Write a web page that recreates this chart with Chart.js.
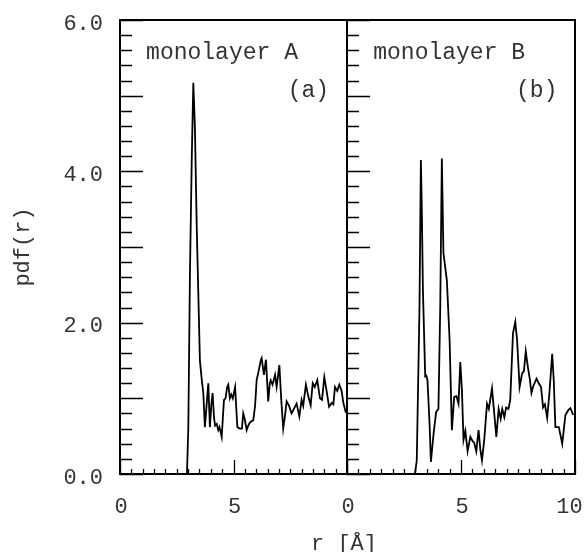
<!DOCTYPE html>
<html>
<head>
<meta charset="utf-8">
<script src="https://cdn.jsdelivr.net/npm/chart.js@4.4.0/dist/chart.umd.min.js"></script>
<style>
html, body { margin: 0; padding: 0; background: #fff; }
#wrap { position: relative; width: 584px; height: 552px; }
#wrap canvas { position: absolute; left: 0; top: 0; }
</style>
</head>
<body>
<div id="wrap">
  <canvas id="chartA" width="584" height="552"></canvas>
  <canvas id="chartB" width="584" height="552"></canvas>
</div>
<script>
// ---------- data ----------
const xA = [0, 2.95, 3.01, 3.08, 3.16, 3.23, 3.30, 3.38, 3.45, 3.52, 3.60, 3.67, 3.74, 3.80, 3.89, 3.96,
  4.02, 4.08, 4.14, 4.19, 4.26, 4.33, 4.38, 4.43, 4.48, 4.58, 4.65, 4.72, 4.77, 4.84, 4.90, 4.97,
  5.07, 5.17, 5.27, 5.37, 5.43, 5.50, 5.58, 5.65, 5.70, 5.80, 5.87, 5.95, 6.02, 6.10, 6.20, 6.24,
  6.30, 6.34, 6.43, 6.53, 6.60, 6.64, 6.72, 6.78, 6.83, 6.90, 7.02, 7.10, 7.19, 7.26, 7.34, 7.45,
  7.56, 7.66, 7.78, 7.90, 8.00, 8.07, 8.19, 8.30, 8.40, 8.49, 8.58, 8.69, 8.81, 8.90, 9.00, 9.10,
  9.21, 9.33, 9.40, 9.47, 9.57, 9.66, 9.76, 9.84, 9.94, 10.0];
const yA = [0, 0, 0.62, 2.61, 4.15, 5.17, 4.59, 3.27, 2.39, 1.50, 1.25, 1.07, 0.62, 0.85, 1.20, 0.62,
  0.90, 1.07, 0.75, 0.64, 0.66, 0.58, 0.62, 0.56, 0.49, 0.98, 1.00, 1.15, 1.18, 1.00, 1.05, 1.00,
  1.15, 0.62, 0.60, 0.60, 0.80, 0.72, 0.58, 0.64, 0.67, 0.70, 0.71, 0.90, 1.24, 1.35, 1.50, 1.53,
  1.40, 1.31, 1.51, 0.96, 1.20, 1.24, 1.18, 1.25, 1.31, 1.15, 1.44, 1.00, 0.60, 0.75, 0.96, 0.90,
  0.80, 0.86, 0.93, 0.76, 0.98, 0.90, 1.18, 1.02, 0.91, 1.20, 1.15, 1.24, 1.00, 0.98, 1.28, 1.10,
  0.89, 0.94, 0.92, 1.15, 1.10, 1.18, 1.10, 0.94, 0.82, 0.82];

const xB = [0, 2.98, 3.06, 3.18, 3.24, 3.28, 3.33, 3.43, 3.48, 3.53, 3.62, 3.68, 3.74, 3.80, 3.91, 4.01,
  4.09, 4.16, 4.23, 4.30, 4.38, 4.50, 4.60, 4.70, 4.80, 4.89, 4.97, 5.04, 5.11, 5.19, 5.29, 5.41,
  5.50, 5.58, 5.67, 5.77, 5.85, 5.92, 6.02, 6.14, 6.22, 6.36, 6.44, 6.55, 6.65, 6.74, 6.81, 6.90,
  6.98, 7.08, 7.16, 7.28, 7.38, 7.46, 7.57, 7.68, 7.76, 7.84, 7.93, 8.02, 8.09, 8.17, 8.31, 8.41,
  8.51, 8.60, 8.68, 8.78, 8.88, 9.00, 9.07, 9.14, 9.29, 9.44, 9.58, 9.72, 9.80, 9.92];
const yB = [0, 0, 0.18, 2.21, 4.15, 3.53, 2.43, 1.29, 1.30, 1.24, 0.67, 0.16, 0.35, 0.54, 0.82, 0.86,
  2.21, 4.17, 2.92, 2.75, 2.56, 1.77, 0.58, 1.02, 1.03, 0.93, 1.48, 1.11, 0.45, 0.57, 0.30, 0.49,
  0.44, 0.41, 0.30, 0.58, 0.32, 0.18, 0.45, 0.93, 0.86, 1.13, 0.86, 0.49, 0.86, 0.73, 0.86, 0.75,
  0.88, 0.86, 0.98, 1.86, 2.01, 1.77, 1.15, 1.33, 1.36, 1.62, 1.42, 1.25, 1.07, 1.16, 1.26, 1.20,
  1.15, 0.88, 0.92, 0.74, 1.08, 1.59, 1.23, 0.62, 0.62, 0.40, 0.78, 0.85, 0.87, 0.78];

const xTickValuesA = [0, 5];
const xTickLabelsA = ['0', '5'];
const xTickValuesB = [0, 5, 10];
const xTickLabelsB = ['0', '5', '10 '];
const yTickValues = [0, 2, 4, 6];
const yTickLabels = ['0.0', '2.0', '4.0', '6.0'];

const xMin = 0, xMax = 10, xMinorStep = 0.5, xMajorStep = 5;
const yMin = 0, yMax = 6, yMinorStep = 0.2, yMajorStep = 1;

// ---------- styling ----------
const FONT = "'Liberation Mono', 'DejaVu Sans Mono', monospace";
const INK = '#000';
const TEXT = '#333';

const frameTicks = {
  id: 'frameTicks',
  afterDatasetsDraw(chart, args, opts) {
    const { ctx, chartArea: a, scales: { x, y } } = chart;
    ctx.save();
    ctx.strokeStyle = INK;
    ctx.lineWidth = 1.3;
    ctx.beginPath();
    const ny = Math.round((yMax - yMin) / yMinorStep);
    for (let i = 0; i <= ny; i++) {
      const v = yMin + i * yMinorStep;
      const py = Math.round(y.getPixelForValue(v)) + 0.5;
      const major = Math.abs(v / yMajorStep - Math.round(v / yMajorStep)) < 1e-6;
      ctx.moveTo(a.left, py);
      ctx.lineTo(a.left + (major ? 23 : 12), py);
    }
    const nx = Math.round((xMax - xMin) / xMinorStep);
    for (let i = 0; i <= nx; i++) {
      const v = xMin + i * xMinorStep;
      const px = Math.round(x.getPixelForValue(v)) + 0.5;
      const major = Math.abs(v / xMajorStep - Math.round(v / xMajorStep)) < 1e-6;
      ctx.moveTo(px, a.bottom);
      ctx.lineTo(px, a.bottom - (major ? 14 : 5));
    }
    ctx.stroke();
    ctx.lineWidth = 2;
    ctx.strokeRect(a.left, a.top, a.right - a.left, a.bottom - a.top);

    ctx.fillStyle = TEXT;
    ctx.font = '23px ' + FONT;
    ctx.textBaseline = 'alphabetic';
    (opts.notes || []).forEach(n => {
      ctx.textAlign = n.align;
      ctx.fillText(n.text, x.getPixelForValue(n.x), y.getPixelForValue(n.y));
    });
    if (opts.xTitle) {
      ctx.font = '22px ' + FONT;
      ctx.textAlign = 'center';
      ctx.fillText(opts.xTitle.text, opts.xTitle.cx, opts.xTitle.baseline);
    }
    ctx.restore();
  }
};

function lookup(values, labels, v) {
  const i = values.findIndex(t => Math.abs(t - v) < 1e-6);
  return i >= 0 ? labels[i] : '';
}

function xScale(tickValues, tickLabels) {
  return {
    type: 'linear', min: xMin, max: xMax,
    grid: { display: false, drawTicks: false },
    border: { display: false },
    afterBuildTicks(s) { s.ticks = tickValues.map(v => ({ value: v })); },
    ticks: {
      autoSkip: false, maxRotation: 0, minRotation: 0,
      padding: 20, labelOffset: 1, color: TEXT,
      font: { family: FONT, size: 22 },
      callback: v => lookup(tickValues, tickLabels, v)
    },
    afterFit(s) { s.height = 78; s.paddingLeft = 0; s.paddingRight = 0; }
  };
}

function makeChart(id, xs, ys, padding, xTicksV, xTicksL, showY, pluginOpts) {
  return new Chart(document.getElementById(id), {
    type: 'line',
    data: {
      datasets: [{
        data: xs.map((v, i) => ({ x: v, y: ys[i] })),
        borderColor: INK, borderWidth: 1.8,
        pointRadius: 0, tension: 0, fill: false
      }]
    },
    options: {
      responsive: false, animation: false, events: [],
      layout: { padding: padding },
      plugins: { legend: { display: false }, tooltip: { enabled: false }, frameTicks: pluginOpts },
      scales: {
        x: xScale(xTicksV, xTicksL),
        y: {
          type: 'linear', min: yMin, max: yMax, display: showY,
          grid: { display: false, drawTicks: false },
          border: { display: false },
          afterBuildTicks(s) { s.ticks = yTickValues.map(v => ({ value: v })); },
          ticks: {
            autoSkip: false, padding: 17, labelOffset: 4, color: TEXT,
            font: { family: FONT, size: 22 },
            callback: v => lookup(yTickValues, yTickLabels, v)
          },
          title: {
            display: showY, text: 'pdf(r)', color: TEXT,
            font: { family: FONT, size: 22 }, padding: { top: 10, bottom: 0 }
          },
          afterFit(s) { s.width = showY ? 120 : 0; s.paddingTop = 0; s.paddingBottom = 0; }
        }
      }
    },
    plugins: [frameTicks]
  });
}

makeChart('chartA', xA, yA, { left: 0, top: 20, right: 237, bottom: 0 },
  xTickValuesA, xTickLabelsA, true,
  { notes: [
      { text: 'monolayer A', x: 1.15, y: 5.49, align: 'left' },
      { text: '(a)', x: 9.21, y: 4.98, align: 'right' }
  ] });

makeChart('chartB', xB, yB, { left: 347, top: 20, right: 9, bottom: 0 },
  xTickValuesB, xTickLabelsB, false,
  { notes: [
      { text: 'monolayer B', x: 1.15, y: 5.49, align: 'left' },
      { text: '(b)', x: 9.23, y: 4.98, align: 'right' }
    ],
    xTitle: { text: 'r [Å]', cx: 344, baseline: 550 } });
</script>
</body>
</html>
